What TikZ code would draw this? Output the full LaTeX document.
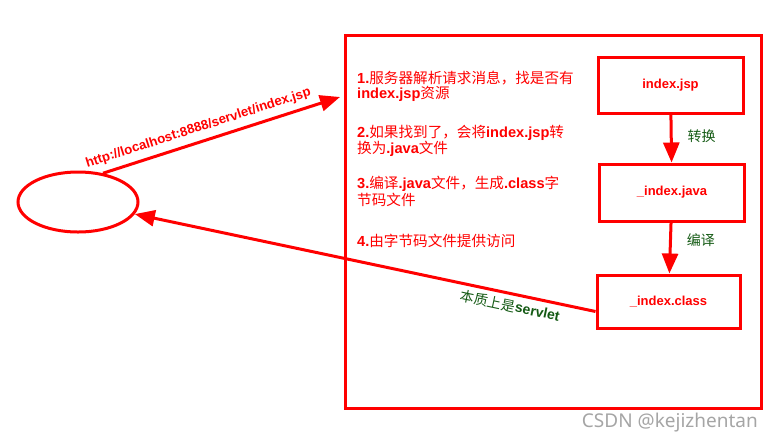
\documentclass[tikz,border=0pt]{standalone}
\usepackage{fontspec}
\setmainfont{Liberation Sans}
\newfontfamily\cjk{Noto Sans CJK SC}
\newfontfamily\marksans{Noto Sans}
\usetikzlibrary{arrows.meta,shapes.geometric}
\definecolor{darkgreen}{RGB}{20,90,20}
\definecolor{markgrey}{RGB}{165,165,165}
\newcommand{\zh}[1]{{\cjk\mdseries #1}}
\tikzset{
  box/.style={draw=red, line width=3pt, minimum width=145pt, minimum height=56pt, inner sep=0pt, text=red, font=\bfseries\fontsize{13}{13}\selectfont},
  conn/.style={draw=red, line width=3pt, -{Triangle[length=20pt,width=16pt]}},
  note/.style={anchor=west, align=left, inner sep=0pt, text=red, font=\bfseries\fontsize{14.6}{13.5}\selectfont},
  tag/.style={text=darkgreen, inner sep=1pt, font=\fontsize{14}{14}\selectfont},
}
\begin{document}
\begin{tikzpicture}[x=1pt, y=-1pt]
    \useasboundingbox (0,0) rectangle (773,445);
    % Browser
    \node[ellipse, draw=red, line width=3pt, minimum width=120pt, minimum height=60pt, inner sep=0pt] (client) at (78,202) {};
    % Server frame
    \node[draw=red, line width=3pt, minimum width=416pt, minimum height=373pt, inner sep=0pt] (server) at (553,221.5) {};
    \coordinate (req) at (340,97);
    % Steps
    \node[note] (n1) at (357,86.5) {1.\zh{服务器解析请求消息，找是否有}\\index.jsp\zh{资源}};
    \node[note] (n2) at (357,141) {2.\zh{如果找到了，会将}index.jsp\zh{转}\\\zh{换为}.java\zh{文件}};
    \node[note] (n3) at (357,191.5) {3.\zh{编译}.java\zh{文件，生成}.class\zh{字}\\\zh{节码文件}};
    \node[note] (n4) at (357,241) {4.\zh{由字节码文件提供访问}};
    % Boxes
    \node[box] (jsp) at (670.5,85) {index.jsp};
    \node[box, minimum height=57pt] (java) at (672,192.5) {\_index.java};
    \node[box, minimum width=143pt, minimum height=53pt] (class) at (668.5,301.5) {\_index.class};
    % Arrows
    \draw[conn] (jsp) -- node[tag, right=14pt, pos=0.45] (t1) {\zh{转换}} (java);
    \draw[conn] (java) -- node[tag, right=14pt, pos=0.35] (t2) {\zh{编译}} (class);
    \draw[conn] (client.49) -- node[sloped, above=6pt, pos=0.42, text=red, inner sep=0pt, font=\bfseries\fontsize{13.2}{13}\selectfont] (url) {http://localhost:8888/servlet/index.jsp} (req);
    \draw[conn] ([yshift=-10pt]class.west) -- node[tag, sloped, below=3pt, pos=0.18] (back) {\zh{本质上是}\textbf{servlet}} (client.-12);
    % Watermark
    \node[anchor=east, text=markgrey, inner sep=0pt, font=\marksans\fontsize{19}{19}\selectfont] (mark) at (758,423) {CSDN @kejizhentan};
\end{tikzpicture}
\end{document}
